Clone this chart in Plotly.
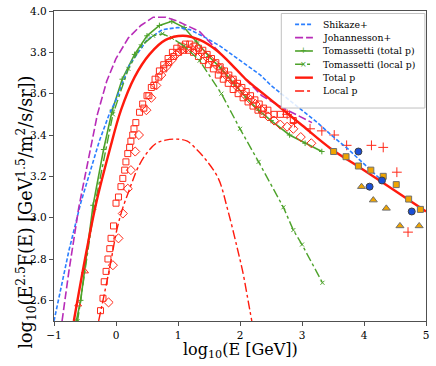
import plotly.graph_objects as go

# model curves: log10(E/GeV) vs log10(E^2.5 F)
shikaze_x = [-1.0, -0.76, -0.57, -0.27, -0.11, 0.0, 0.22, 0.5, 0.75, 1.0, 1.19, 1.45, 1.68, 2.0, 2.33, 2.5, 2.75, 3.0, 3.25, 3.47, 3.75, 4.0, 4.25]
shikaze_y = [2.50, 2.84, 3.07, 3.37, 3.50, 3.57, 3.74, 3.86, 3.91, 3.92, 3.91, 3.87, 3.83, 3.76, 3.69, 3.64, 3.58, 3.52, 3.46, 3.40, 3.33, 3.26, 3.19]

johannesson_x = [-0.87, -0.76, -0.6, -0.42, -0.3, -0.15, 0.0, 0.2, 0.4, 0.6, 0.8, 1.0, 1.2, 1.35, 1.7, 2.0, 2.35, 2.7, 3.16]
johannesson_y = [2.50, 2.74, 3.05, 3.32, 3.50, 3.66, 3.77, 3.87, 3.93, 3.97, 3.97, 3.95, 3.92, 3.90, 3.79, 3.70, 3.59, 3.53, 3.46]

tom_total_x = [-0.64, -0.57, -0.37, -0.2, -0.06, 0.1, 0.3, 0.5, 0.7, 0.9, 1.1, 1.3, 1.5, 1.7, 1.9, 2.1, 2.3, 2.5, 2.8, 3.05, 3.32]
tom_total_y = [2.50, 2.60, 3.06, 3.33, 3.52, 3.67, 3.79, 3.88, 3.93, 3.95, 3.92, 3.85, 3.78, 3.72, 3.65, 3.58, 3.52, 3.47, 3.40, 3.36, 3.32]

tom_local_x = [-0.62, -0.35, -0.05, 0.2, 0.4, 0.6, 0.75, 0.9, 1.1, 1.35, 1.7, 2.0, 2.3, 2.7, 2.86, 3.0, 3.33]
tom_local_y = [2.50, 3.05, 3.50, 3.72, 3.83, 3.88, 3.89, 3.87, 3.83, 3.76, 3.60, 3.43, 3.27, 3.05, 2.94, 2.87, 2.685]

total_p_x = [-0.68, -0.5, -0.32, -0.1, 0.08, 0.3, 0.54, 0.8, 1.08, 1.35, 1.62, 1.9, 2.11, 2.27, 2.6, 3.0, 3.46, 4.0, 4.5, 5.0]
total_p_y = [2.50, 2.80, 3.07, 3.33, 3.52, 3.68, 3.79, 3.86, 3.88, 3.86, 3.81, 3.73, 3.665, 3.625, 3.545, 3.447, 3.335, 3.23, 3.13, 3.03]

local_p_x = [-0.28, -0.1, 0.02, 0.107, 0.19, 0.27, 0.35, 0.49, 0.65, 0.8, 0.98, 1.15, 1.3, 1.45, 1.65, 1.8, 1.95, 2.05, 2.13, 2.19]
local_p_y = [2.50, 2.76, 2.95, 3.045, 3.115, 3.18, 3.24, 3.31, 3.36, 3.375, 3.38, 3.37, 3.33, 3.28, 3.19, 3.04, 2.86, 2.73, 2.60, 2.50]

# measurements
sq_x = [-0.25, -0.21, -0.19, -0.16, -0.13, -0.10, -0.08, -0.04, 0.00, 0.04, 0.08, 0.11, 0.14, 0.16, 0.19, 0.22,
        0.24, 0.27, 0.29, 0.32, 0.38, 0.43, 0.50, 0.57, 0.63, 0.70, 0.77, 0.84, 0.91, 0.98, 1.05, 1.12, 1.19,
        1.26, 1.33, 1.40, 1.47, 1.54, 1.61, 1.68, 1.75, 1.82, 1.89, 1.96, 2.03, 2.10, 2.17, 2.24, 2.31, 2.38,
        2.45, 2.55, 2.65, 2.75, 2.86]
sq_y = [2.55, 2.61, 2.69, 2.74, 2.80, 2.85, 2.90, 2.96, 3.07, 3.10, 3.15, 3.19, 3.23, 3.27, 3.31, 3.34,
        3.37, 3.40, 3.43, 3.46, 3.51, 3.55, 3.59, 3.63, 3.67, 3.71, 3.74, 3.77, 3.80, 3.82, 3.83, 3.84, 3.84,
        3.83, 3.82, 3.81, 3.79, 3.77, 3.75, 3.73, 3.71, 3.69, 3.67, 3.65, 3.63, 3.61, 3.59, 3.57, 3.55, 3.53,
        3.52, 3.50, 3.50, 3.50, 3.47]

sq2_x = [0.45, 0.53, 0.61, 0.69, 0.77, 0.85, 0.93, 1.01, 1.09, 1.17, 1.25, 1.33, 1.41, 1.49, 1.57, 1.65,
         1.73, 1.81, 1.89, 1.97, 2.05, 2.13, 2.21, 2.29, 2.37]
sq2_y = [3.53, 3.59, 3.64, 3.68, 3.72, 3.75, 3.78, 3.80, 3.81, 3.81, 3.80, 3.78, 3.76, 3.74, 3.72, 3.69,
         3.67, 3.65, 3.62, 3.60, 3.58, 3.56, 3.54, 3.52, 3.50]

dia_x = [-0.12, -0.05, 0.04, 0.11, 0.19, 0.24, 0.31, 0.37, 0.49, 0.57, 0.65, 0.73, 0.81, 0.89, 0.97, 1.05,
         1.13, 1.21, 1.29, 1.37, 1.45, 1.53, 1.61, 1.69, 1.77, 1.85, 1.93, 2.01, 2.09, 2.17, 2.25, 2.35,
         2.45, 2.55, 2.65, 2.76, 2.86, 2.98, 3.15]
dia_y = [2.59, 2.77, 2.90, 3.02, 3.14, 3.23, 3.32, 3.40, 3.52, 3.58, 3.64, 3.69, 3.73, 3.76, 3.79, 3.81,
         3.82, 3.82, 3.81, 3.80, 3.78, 3.76, 3.74, 3.72, 3.69, 3.67, 3.64, 3.62, 3.59, 3.57, 3.55, 3.52,
         3.49, 3.47, 3.45, 3.44, 3.43, 3.39, 3.36]

tri_x = [-0.61, -0.50]
tri_y = [2.58, 2.74]

plus_x = [1.70, 1.94, 2.76, 2.88, 3.13, 3.32, 3.52, 3.72, 4.12, 4.31, 4.53, 4.71]
plus_y = [3.70, 3.65, 3.50, 3.46, 3.43, 3.42, 3.40, 3.35, 3.35, 3.34, 3.22, 2.93]

circ_x = [3.91, 4.09, 4.29, 4.77]
circ_y = [3.32, 3.15, 3.18, 3.03]

osq_x = [3.51, 3.71, 3.91, 4.11, 4.31, 4.52, 4.72, 4.91]
osq_y = [3.32, 3.295, 3.25, 3.23, 3.20, 3.16, 3.09, 3.04]

otri_x = [3.96, 4.15, 4.36, 4.58, 4.89]
otri_y = [3.15, 3.085, 3.045, 2.96, 2.96]

x_ticks = [-1, 0, 1, 2, 3, 4, 5]
y_ticks = [2.6, 2.8, 3.0, 3.2, 3.4, 3.6, 3.8, 4.0]

legend_names = ["Shikaze+", "Johannesson+", "Tomassetti (total p)", "Tomassetti (local p)", "Total p", "Local p"]

FONT = "DejaVu Serif"
RED = "#ff2a1a"
LINE_RED = "#ff1a0d"
GREEN = "#4da22a"
BLUE = "#2b7fff"
PURPLE = "#b82cb8"

fig = go.Figure()


def pts(x, y, symbol, size, color, line_color, line_width=1.0):
    fig.add_trace(go.Scatter(x=x, y=y, mode="markers", showlegend=False,
                             marker=dict(symbol=symbol, size=size, color=color,
                                         line=dict(color=line_color, width=line_width))))


# green total sits under the data points
fig.add_trace(go.Scatter(x=tom_total_x, y=tom_total_y, mode="lines+markers", showlegend=False,
                         line=dict(color=GREEN, width=1.6),
                         marker=dict(symbol="cross-thin-open", size=4, color=GREEN,
                                     line=dict(color=GREEN, width=1))))

pts(sq_x, sq_y, "square-open", 6, RED, RED)
pts(sq2_x, sq2_y, "square-open", 6, RED, RED)
pts(dia_x, dia_y, "diamond-open", 7, RED, RED)
pts(tri_x, tri_y, "triangle-up-open", 6, RED, RED)
pts(plus_x, plus_y, "cross-thin-open", 7, RED, RED)

fig.add_trace(go.Scatter(x=shikaze_x, y=shikaze_y, mode="lines", showlegend=False,
                         line=dict(color=BLUE, width=1.6, dash="4px,2px")))
fig.add_trace(go.Scatter(x=johannesson_x, y=johannesson_y, mode="lines", showlegend=False,
                         line=dict(color=PURPLE, width=1.6, dash="8px,3px")))
fig.add_trace(go.Scatter(x=tom_local_x, y=tom_local_y, mode="lines+markers", showlegend=False,
                         line=dict(color=GREEN, width=1.4, dash="dashdot"),
                         marker=dict(symbol="x-thin-open", size=4, color=GREEN,
                                     line=dict(color=GREEN, width=1))))
fig.add_trace(go.Scatter(x=total_p_x, y=total_p_y, mode="lines", showlegend=False,
                         line=dict(color=LINE_RED, width=2.4, shape="spline")))
fig.add_trace(go.Scatter(x=local_p_x, y=local_p_y, mode="lines", showlegend=False,
                         line=dict(color=LINE_RED, width=1.4, dash="dashdot", shape="spline")))

pts(osq_x, osq_y, "square", 6, "#f0a500", "#707070")
pts(circ_x, circ_y, "circle", 7, "#1a4fd6", "#404040")
pts(otri_x, otri_y, "triangle-up", 7, "#f0a500", "#707070")

# compact legend (plotly's own legend rows are too tall here)
leg_styles = [(BLUE, "4px,2px", 1.6, ""), (PURPLE, "8px,3px", 1.6, ""), (GREEN, "solid", 1.6, "+"),
              (GREEN, "dashdot", 1.4, "\u00d7"), (LINE_RED, "solid", 2.4, ""), (LINE_RED, "dashdot", 1.4, "")]
fig.add_shape(type="rect", xref="paper", yref="paper", x0=0.611, x1=0.997, y0=0.687, y1=0.992,
              line=dict(color="#c0c0c0", width=1), fillcolor="rgba(255,255,255,0.85)", layer="above")
for i, (name, (col, dash, w, mk)) in enumerate(zip(legend_names, leg_styles)):
    yy = 0.957 - i * 0.043
    fig.add_shape(type="line", xref="paper", yref="paper", x0=0.648, x1=0.696, y0=yy, y1=yy,
                  line=dict(color=col, width=w, dash=dash), layer="above")
    if mk:
        fig.add_annotation(text=mk, xref="paper", yref="paper", x=0.672, y=yy, showarrow=False,
                           xanchor="center", yanchor="middle", font=dict(family="DejaVu Sans", size=8, color=col))
    fig.add_annotation(text=name, xref="paper", yref="paper", x=0.719, y=yy, showarrow=False,
                       xanchor="left", yanchor="middle", font=dict(family=FONT, size=9.3, color="black"))

axis_common = dict(showline=True, mirror=True, linecolor="#505050", linewidth=1.3,
                   ticks="outside", ticklen=4, tickcolor="#505050", tickwidth=1,
                   showgrid=False, zeroline=False,
                   tickfont=dict(family=FONT, size=10.5, color="black"))

fig.update_xaxes(range=[-1, 5], tickvals=x_ticks, ticktext=[str(v).replace("-", "\u2212") for v in x_ticks],
                 **axis_common)
fig.update_yaxes(range=[2.5, 4.0], tickvals=y_ticks, ticktext=["%.1f" % v for v in y_ticks],
                 **axis_common)

fig.add_annotation(text="log<sub>10</sub>(E [GeV])", xref="paper", yref="paper", x=0.5, y=-0.095,
                   xanchor="center", yanchor="middle", showarrow=False,
                   font=dict(family=FONT, size=16, color="black"))
fig.add_annotation(text="log<sub>10</sub>(E<sup>2.5</sup>F(E) [GeV<sup>1.5</sup>/m<sup>2</sup>/s/sr])",
                   xref="paper", yref="paper", x=-0.075, y=0.35, xanchor="center", yanchor="middle",
                   textangle=-90, showarrow=False, font=dict(family=FONT, size=17.6, color="black"))

fig.update_layout(
    width=436, height=366,
    margin=dict(l=54, r=10, t=11, b=45, autoexpand=False),
    paper_bgcolor="white", plot_bgcolor="white",
    showlegend=False,
)

# drop the page's default 8px body margin so the figure sits at the window corner
fig.write_html("out.html", config={"displayModeBar": False},
               post_script="document.body.style.margin='0px';")
